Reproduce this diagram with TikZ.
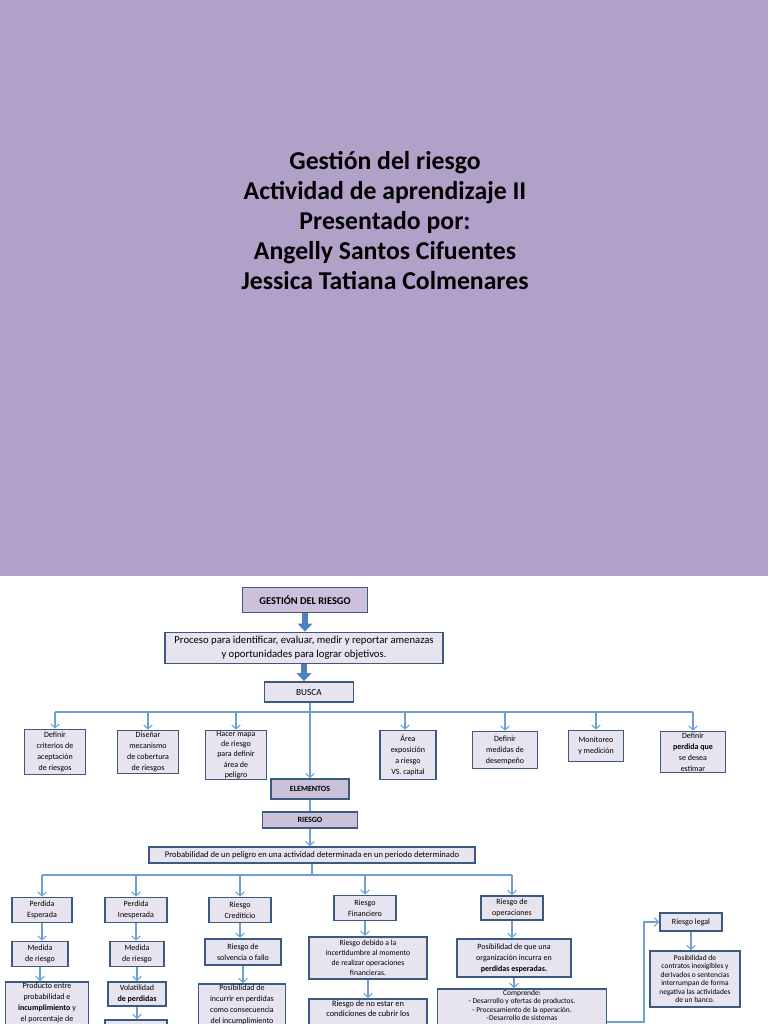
\documentclass[tikz,border=0pt]{standalone}
\usepackage{fontspec}
\setmainfont{Carlito}
\usepackage{tikz}
\usetikzlibrary{
  arrows.meta,
  positioning,
  calc,
}
\definecolor{slidebg}{HTML}{B1A1C8}
\definecolor{boxfill}{HTML}{E7E3EF}
\definecolor{headfill}{HTML}{CBC1DB}
\definecolor{boxline}{HTML}{3B5A80}
\definecolor{linkblue}{HTML}{6F9ED3}
\definecolor{arrowblue}{HTML}{4F81BD}

\begin{document}
\begin{tikzpicture}[
    x=0.75pt, y=-0.75pt,
    box/.style={draw=boxline, fill=boxfill, line width=1.4pt, align=center,
      inner sep=1pt, font=\fontsize{6}{8.2}\selectfont},
    headbox/.style={box, fill=headfill, font=\bfseries\fontsize{6}{7}\selectfont},
    link/.style={linkblue, line width=0.8pt},
    tip/.style={link, -{Straight Barb[length=3pt,width=6.5pt]}},
    bigarrow/.style={arrowblue, line width=4.5pt, -{Triangle[length=6pt,width=11pt]}},
  ]
  \useasboundingbox (0,0) rectangle (768,1024);
  \clip (0,0) rectangle (768,1024);

  % Title slide
  \fill[slidebg] (0,0) rectangle (768,576);
  \node[font=\bfseries\fontsize{19.3}{22.5}\selectfont, align=center] (title) at (385,221)
    {Gestión del riesgo\\Actividad de aprendizaje II\\Presentado por:\\Angelly Santos Cifuentes\\Jessica Tatiana Colmenares};

  % Top chain
  \node[headbox, font=\bfseries\fontsize{7.8}{9}\selectfont, minimum width=93.75pt, minimum height=18.75pt] (gest) at (305,600) {GESTIÓN DEL RIESGO};
  \node[box, font=\fontsize{8}{10.5}\selectfont, minimum width=208.5pt, minimum height=23.25pt] (proc) at (304,648)
    {Proceso para identificar, evaluar, medir y reportar amenazas\\y oportunidades para lograr objetivos.};
  \node[box, font=\fontsize{7}{8}\selectfont, minimum width=66.75pt, minimum height=15pt] (busca) at (309,692) {BUSCA};
  \draw[bigarrow] (gest.south) -- (gest.south |- proc.north);
  \draw[bigarrow] (proc.south) -- (proc.south |- busca.north);

  % What it seeks
  \node[box, minimum width=45.75pt, minimum height=33.75pt] (crit)  at (55,752)  {Definir\\criterios de\\aceptación\\de riesgos};
  \node[box, minimum width=45.75pt, minimum height=32.25pt] (dise)  at (148,752) {Diseñar\\mecanismo\\de cobertura\\de riesgos};
  \node[box, minimum width=45.75pt, minimum height=36.75pt, inner sep=0pt, font=\fontsize{6}{7.6}\selectfont] (mapa) at (236,755) {Hacer mapa\\de riesgo\\para definir\\área de\\peligro};
  \node[box, minimum width=42pt, minimum height=36.75pt]    (area)  at (408,755) {Área\\exposición\\a riesgo\\VS. capital};
  \node[box, minimum width=48.75pt, minimum height=27.75pt] (desem) at (505,750) {Definir\\medidas de\\desempeño};
  \node[box, minimum width=41.25pt, minimum height=23.25pt] (monit) at (596,746) {Monitoreo\\y medición};
  \node[box, minimum width=48.75pt, minimum height=30pt]    (estim) at (693,752) {Definir\\\textbf{perdida que}\\se desea\\estimar};

  \coordinate (bus1) at (0,712);
  \draw[link] (crit.north |- bus1) -- (estim.north |- bus1);
  \draw[tip] (crit.north |- bus1) -- (crit.north);
  \draw[tip] (dise.north |- bus1) -- (dise.north);
  \draw[tip] (mapa.north |- bus1) -- (mapa.north);
  \draw[tip] ([xshift=-2.25pt]area.north |- bus1) -- ([xshift=-2.25pt]area.north);
  \draw[tip] (desem.north |- bus1) -- (desem.north);
  \draw[tip] (monit.north |- bus1) -- (monit.north);
  \draw[tip] (estim.north |- bus1) -- (estim.north);

  % Elements
  \node[headbox, minimum width=58.5pt, minimum height=15pt] (elem) at (310,789) {ELEMENTOS};
  \node[headbox, minimum width=71.25pt, minimum height=12pt] (ries) at (310,820) {RIESGO};
  \node[box, font=\fontsize{6.4}{7}\selectfont, minimum width=244.5pt, minimum height=12pt] (prob) at (312,855)
    {Probabilidad de un peligro en una actividad determinada en un periodo determinado};
  \draw[tip] (elem.north |- busca.south) -- (elem.north);
  \draw[link] (elem.south) -- (ries.north);
  \draw[tip] (ries.south) -- (ries.south |- prob.north);

  % Kinds of risk
  \node[box, minimum width=45pt, minimum height=18.75pt]   (pesp) at (42,910)  {Perdida\\Esperada};
  \node[box, minimum width=46.5pt, minimum height=18.75pt] (pine) at (136,910) {Perdida\\Inesperada};
  \node[box, minimum width=46.5pt, minimum height=18.75pt] (cred) at (240,910) {Riesgo\\Crediticio};
  \node[box, minimum width=46.5pt, minimum height=18.75pt] (fina) at (365,908) {Riesgo\\Financiero};
  \node[box, minimum width=46.5pt, minimum height=18pt]    (oper) at (512,908) {Riesgo de\\operaciones};

  \coordinate (bus2) at (0,875);
  \draw[link] (prob.south) -- (prob.south |- bus2);
  \draw[link] (pesp.north |- bus2) -- (oper.north |- bus2);
  \draw[tip] (pesp.north |- bus2) -- (pesp.north);
  \draw[tip] (pine.north |- bus2) -- (pine.north);
  \draw[tip] (cred.north |- bus2) -- (cred.north);
  \draw[tip] (fina.north |- bus2) -- (fina.north);
  \draw[tip] (oper.north |- bus2) -- (oper.north);

  % Third row
  \node[box, minimum width=42pt, minimum height=18.75pt] (med1) at (40,954)  {Medida\\de riesgo};
  \node[box, minimum width=40pt, minimum height=18.75pt] (med2) at (137,954) {Medida\\de riesgo};
  \node[box, minimum width=57pt, minimum height=20pt]    (solv) at (243,952) {Riesgo de\\solvencia o fallo};
  \node[box, minimum width=88.5pt, minimum height=32pt, font=\fontsize{5.8}{7.6}\selectfont]  (ince) at (368,958)
    {Riesgo debido a la\\incertidumbre al momento\\de realizar operaciones\\financieras.};
  \node[box, minimum width=86pt, minimum height=28.5pt]  (orga) at (514,958)
    {Posibilidad de que una\\organización incurra en\\\textbf{perdidas esperadas.}};
  \draw[tip] (pesp.south) -- (pesp.south |- med1.north);
  \draw[tip] (pine.south) -- (pine.south |- med2.north);
  \draw[tip] (cred.south) -- (cred.south |- solv.north);
  \draw[tip] (fina.south) -- (fina.south |- ince.north);
  \draw[tip] (oper.south) -- (oper.south |- orga.north);

  % Fourth row (cut by the page edge)
  \node[box, anchor=north, text depth=50pt, minimum width=62.25pt] (prod) at (47,981)
    {Producto entre\\probabilidad e\\\textbf{incumplimiento} y\\el porcentaje de};
  \node[box, minimum width=43.5pt, minimum height=18pt] (vola) at (137,994) {Volatilidad\\\textbf{de perdidas}};
  \node[box, anchor=north, minimum width=46.5pt, minimum height=40pt] (next) at (136,1019) {};
  \node[box, anchor=north, text depth=50pt, minimum width=65.25pt] (incu) at (242,983)
    {Posibilidad de\\incurrir en perdidas\\como consecuencia\\del incumplimiento};
  \node[box, anchor=north, text depth=50pt, minimum width=88.5pt, font=\fontsize{6.2}{8}\selectfont] (cubr) at (368,998)
    {Riesgo de no estar en\\condiciones de cubrir los};
  \node[box, anchor=north, text depth=50pt, minimum width=126.75pt, font=\fontsize{5.6}{6.3}\selectfont] (comp) at (522,988)
    {Comprende:\\- Desarrollo y ofertas de productos.\\- Procesamiento de la operación.\\-Desarrollo de sistemas};
  \draw[tip] (med1.south) -- (med1.south |- prod.north);
  \draw[tip] (med2.south) -- (med2.south |- vola.north);
  \draw[tip] (vola.south) -- (vola.south |- next.north);
  \draw[tip] (solv.south) -- (solv.south |- incu.north);
  \draw[tip] (ince.south) -- (ince.south |- cubr.north);
  \draw[tip] (orga.south) -- (orga.south |- comp.north);

  % Legal risk
  \node[box, font=\fontsize{6}{7}\selectfont, minimum width=46.5pt, minimum height=13.5pt] (legal) at (691,922) {Riesgo legal};
  \node[box, font=\fontsize{5.6}{6.4}\selectfont, minimum width=68pt, minimum height=42pt] (cont) at (695,979)
    {Posibilidad de\\contratos inexigibles y\\derivados o sentencias\\interrumpan de forma\\negativa las actividades\\de un banco.};
  \draw[tip] (legal.south) -- (legal.south |- cont.north);
  \coordinate (elbow) at (644,1022);
  \draw[tip] (elbow -| comp.east) -- (elbow) |- (legal.west);
\end{tikzpicture}
\end{document}
